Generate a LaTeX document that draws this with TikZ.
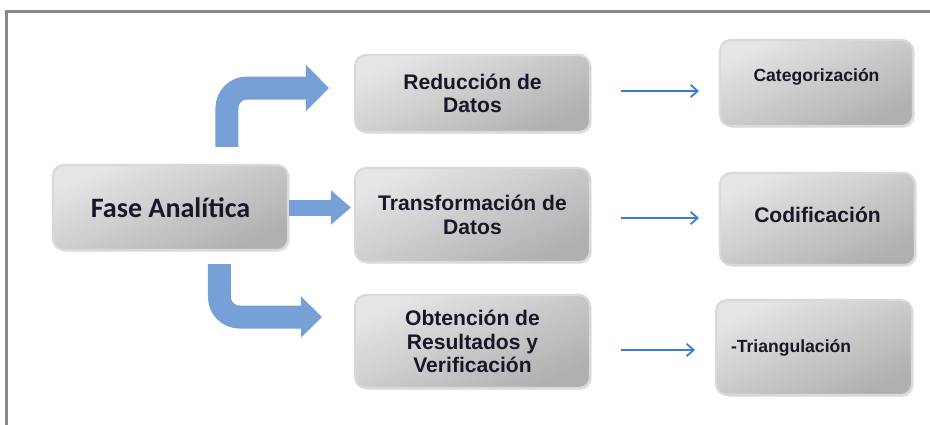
\documentclass[tikz,border=0pt]{standalone}
\usepackage{xcolor}
\usepackage{fontspec}
\setmainfont{Liberation Sans}
\newfontfamily\calibri{Carlito}
\usepackage{tikz}
\usetikzlibrary{shadows,arrows.meta}
\definecolor{arrowblue}{RGB}{118,160,214}
\definecolor{lineblue}{RGB}{58,123,213}
\definecolor{framegray}{RGB}{136,136,136}
\definecolor{textdark}{RGB}{22,24,40}
\tikzstyle{block} = [rectangle, draw=gray!30, line width=1.2pt, top color=gray!20, bottom color=gray!62,
    shading angle=25, rounded corners=0.22cm, align=center, text=textdark,
    drop shadow={shadow xshift=1pt, shadow yshift=-1pt, opacity=0.2}]
\tikzstyle{small} = [block, font=\bfseries\fontsize{10}{12}\selectfont]
\tikzstyle{mid} = [block, font=\bfseries\fontsize{12}{13.5}\selectfont, minimum width=4.7cm]
\tikzstyle{bigarrow} = [draw=arrowblue, line width=0.46cm, rounded corners=0.4cm,
    -{Triangle[width=0.9cm, length=0.46cm]}]
\tikzstyle{line} = [draw=lineblue, line width=1pt, -{Straight Barb[length=4pt, width=7pt]}]

\begin{document}
\begin{tikzpicture}[x=0.02cm, y=-0.02cm]
      \useasboundingbox (0,0) rectangle (930,424);
      % frame
      \draw [framegray, line width=0.06cm] (6.5,430) -- (6.5,11) -- (935,11);
      % nodes
      \node [block, minimum width=4.7cm, minimum height=1.7cm,
        font=\calibri\bfseries\fontsize{16}{18}\selectfont] (fase) at (170.5,207.5) {Fase Analítica};
      \node [mid, minimum height=1.54cm] (red) at (472.5,93.5) {Reducción de\\Datos};
      \node [mid, minimum height=1.88cm] (trans) at (472.5,215) {Transformación de\\Datos};
      \node [mid, minimum height=1.86cm] (obt) at (472.5,341.5) {Obtención de\\Resultados y\\Verificación};
      \node [small, minimum width=3.86cm, minimum height=1.72cm] (cat) at (816.5,83) {\raisebox{0.3cm}{Categorización}};
      \node [block, minimum width=3.9cm, minimum height=1.84cm,
        font=\bfseries\fontsize{12}{14}\selectfont] (cod) at (817.5,219) {\raisebox{0.18cm}{Codificación}};
      \node [small, inner xsep=0.3cm, text width=3.32cm, align=left, minimum height=1.9cm] (tri) at (814,347.5) {-Triangulación};
      % Draw edges
      \path [bigarrow, shorten <=0.34cm, shorten >=0.5cm] ([xshift=1.13cm]fase.north) |- ([yshift=0.11cm]red.west);
      \path [bigarrow, line width=0.32cm, -{Triangle[width=0.66cm, length=0.4cm]}, shorten >=0.06cm] (fase.east) -- (fase.east -| trans.west);
      \path [bigarrow, -{Triangle[width=0.8cm, length=0.42cm]}, shorten <=0.26cm, shorten >=0.64cm] ([xshift=0.98cm]fase.south) |- ([yshift=0.49cm]obt.west);
      \path [line, shorten <=0.6cm, shorten >=0.4cm] ([yshift=0.05cm]red.east) -- ([yshift=0.05cm]red.east -| cat.west);
      \path [line, shorten <=0.6cm, shorten >=0.4cm] ([yshift=-0.06cm]trans.east) -- ([yshift=-0.06cm]trans.east -| cod.west);
      \path [line, shorten <=0.6cm, shorten >=0.4cm] ([yshift=-0.17cm]obt.east) -- ([yshift=-0.17cm]obt.east -| tri.west);
  \end{tikzpicture}
\end{document}
